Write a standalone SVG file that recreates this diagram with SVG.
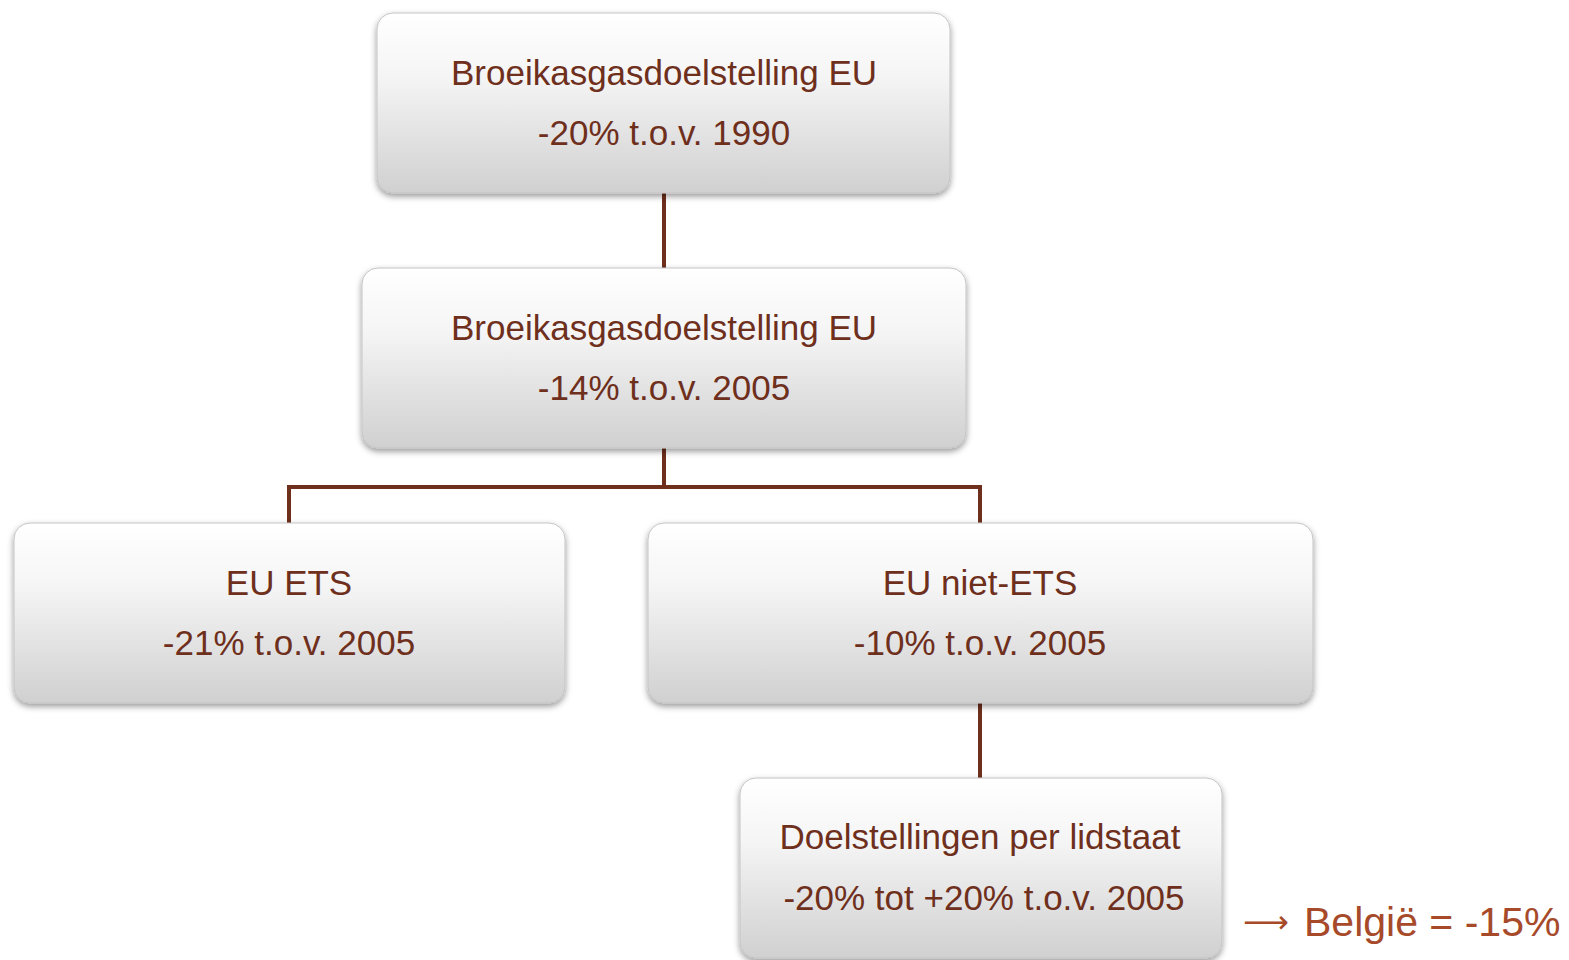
<svg xmlns="http://www.w3.org/2000/svg" width="1569" height="960" viewBox="0 0 1569 960">
<style>
.box{fill:url(#g);stroke:#c4c4c4;stroke-width:1;filter:url(#sh)}
.t{font-family:"Liberation Sans",Arial,sans-serif;font-size:35px;fill:#6e2f1c;text-anchor:middle}
.c{stroke:#6e2f1c;stroke-width:4;fill:none}
.b{font-family:"Liberation Sans",Arial,sans-serif;font-size:41px;fill:#a64a2a}
.a{font-family:"DejaVu Sans",sans-serif;font-size:32px}
</style>
<defs>
<linearGradient id="g" x1="0" y1="0" x2="0" y2="1">
<stop offset="0" stop-color="#ffffff"/>
<stop offset="0.35" stop-color="#f5f5f5"/>
<stop offset="1" stop-color="#d0d0d0"/>
</linearGradient>
<filter id="sh" x="-5%" y="-10%" width="110%" height="125%">
<feDropShadow dx="0" dy="3" stdDeviation="3" flood-color="#000" flood-opacity="0.4"/>
</filter>
</defs>
<rect width="1569" height="960" fill="#fff"/>
<g id="connectors">
<path class="c" d="M664 193V268"/>
<path class="c" d="M664 448V487M289 523V487H980V523"/>
<path class="c" d="M980 703V778"/>
</g>
<g id="n1">
<rect class="box" x="377" y="13" width="573" height="180" rx="16"/>
<text class="t" x="664" y="85">Broeikasgasdoelstelling EU</text>
<text class="t" x="664" y="145">-20% t.o.v. 1990</text>
</g>
<g id="n2">
<rect class="box" x="362" y="268" width="604" height="180" rx="16"/>
<text class="t" x="664" y="340">Broeikasgasdoelstelling EU</text>
<text class="t" x="664" y="400">-14% t.o.v. 2005</text>
</g>
<g id="n3">
<rect class="box" x="14" y="523" width="551" height="180" rx="16"/>
<text class="t" x="289" y="595">EU ETS</text>
<text class="t" x="289" y="655">-21% t.o.v. 2005</text>
</g>
<g id="n4">
<rect class="box" x="648" y="523" width="665" height="180" rx="16"/>
<text class="t" x="980" y="595">EU niet-ETS</text>
<text class="t" x="980" y="655">-10% t.o.v. 2005</text>
</g>
<g id="n5">
<rect class="box" x="740" y="778" width="482" height="180" rx="16"/>
<text class="t" x="980" y="849">Doelstellingen per lidstaat</text>
<text class="t" x="984" y="910">-20% tot +20% t.o.v. 2005</text>
</g>
<text class="b" x="1243" y="936"><tspan class="a" dy="-3">⟶</tspan><tspan x="1304" dy="3">België = -15%</tspan></text>
</svg>
